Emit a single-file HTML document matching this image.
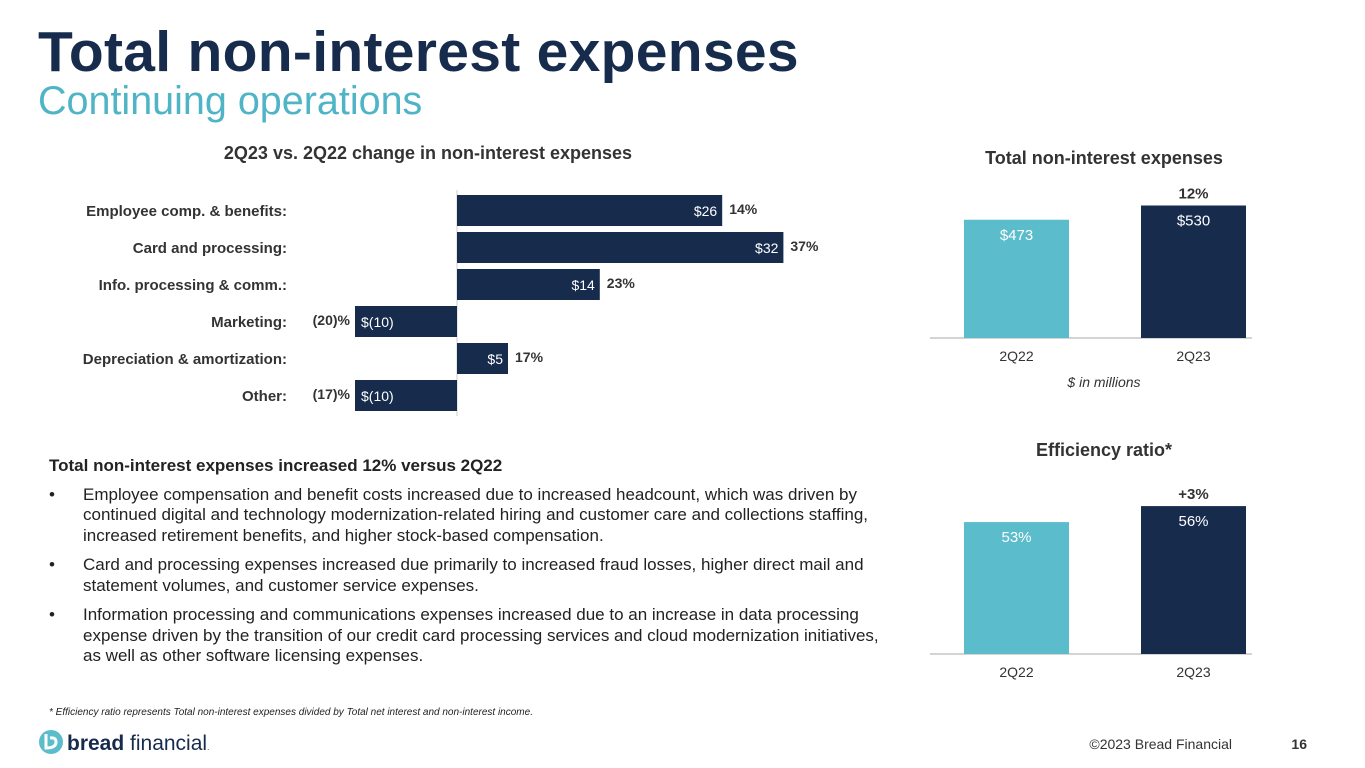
<!DOCTYPE html>
<html><head><meta charset="utf-8"><style>
body{margin:0;width:1365px;height:768px;overflow:hidden;background:#fff;font-family:"Liberation Sans",Arial,sans-serif;position:relative}
.abs{position:absolute}
#title{left:38px;top:19px;font-size:57px;font-weight:bold;color:#172b4d;white-space:nowrap;letter-spacing:0.3px}
#sub{left:38px;top:79px;font-size:39.5px;color:#4fb5c6;white-space:nowrap}
#txt{left:49px;top:456px;width:852px;font-size:17px;color:#222;line-height:20.5px}
#txt ul{margin:8px 0 0 0;padding:0;list-style:none}
#txt li{position:relative;padding-left:34px;margin-bottom:9px}
#txt li:before{content:"•";position:absolute;left:0}
#foot{left:49px;top:707px;font-size:10px;font-style:italic;color:#222}
</style></head><body>
<div id="title" class="abs">Total non-interest expenses</div>
<div id="sub" class="abs">Continuing operations</div>
<div id="txt" class="abs"><b>Total non-interest expenses increased 12% versus 2Q22</b>
<ul>
<li>Employee compensation and benefit costs increased due to increased headcount, which was driven by continued digital and technology modernization-related hiring and customer care and collections staffing, increased retirement benefits, and higher stock-based compensation.</li>
<li>Card and processing expenses increased due primarily to increased fraud losses, higher direct mail and statement volumes, and customer service expenses.</li>
<li>Information processing and communications expenses increased due to an increase in data processing expense driven by the transition of our credit card processing services and cloud modernization initiatives, as well as other software licensing expenses.</li>
</ul></div>
<div id="foot" class="abs">* Efficiency ratio represents Total non-interest expenses divided by Total net interest and non-interest income.</div>
<svg class="abs" style="left:0;top:0" width="1365" height="768" id="svg">
<text x="428" y="159" text-anchor="middle" font-size="18" font-weight="bold" fill="#333">2Q23 vs. 2Q22 change in non-interest expenses</text>
<text x="1104" y="164" text-anchor="middle" font-size="18" font-weight="bold" fill="#333">Total non-interest expenses</text>
<text x="1104" y="456" text-anchor="middle" font-size="18" font-weight="bold" fill="#333">Efficiency ratio*</text>
<text x="1104" y="387" text-anchor="middle" font-size="14" font-style="italic" fill="#333">$ in millions</text>
<g id="hbar"></g><g id="c1"></g><g id="c2"></g>
<g>
<circle cx="51" cy="742" r="12" fill="#5bbccb"/>
<path d="M46 734 L46 748 Q56 748 56 742 Q56 737 50 738" stroke="#fff" stroke-width="3" fill="none"/>
<text x="67" y="750" font-size="21" fill="#172b4d"><tspan font-weight="bold">bread</tspan> financial<tspan font-size="8">.</tspan></text>
</g>
<text x="1232" y="749" text-anchor="end" font-size="14" fill="#333">©2023 Bread Financial</text>
<text x="1307" y="749" text-anchor="end" font-size="14" font-weight="bold" fill="#333">16</text>
</svg>
<script>
const cats=["Employee comp. & benefits:","Card and processing:","Info. processing & comm.:","Marketing:","Depreciation & amortization:","Other:"];
const changes=[26,32,14,-10,5,-10];
const pcts=["14%","37%","23%","(20)%","17%","(17)%"];
const qLabels=["2Q22","2Q23"];
const expenses=[473,530];
const expChange="12%";
const effRatio=[53,56];
const effChange="+3%";
const NS="http://www.w3.org/2000/svg";
function mk(p,t,a){const e=document.createElementNS(NS,t);for(const k in a)e.setAttribute(k,a[k]);p.appendChild(e);return e;}
const navy="#172b4d",teal="#5bbccb";
const fmt=v=>v<0?"$("+(-v)+")":"$"+v;
const hb=document.getElementById('hbar');
const x0=457,xs=v=>x0+v*10.2,rowY=i=>195+i*37,bh=31;
mk(hb,'line',{x1:x0,x2:x0,y1:190,y2:416,stroke:"#ccc"});
cats.forEach((c,i)=>{
 const y=rowY(i),v=changes[i],xa=Math.min(xs(0),xs(v)),w=Math.abs(xs(v)-xs(0));
 const t=mk(hb,'text',{x:287,y:y+21,'text-anchor':'end','font-size':15,'font-weight':'bold',fill:'#333'});t.textContent=c;
 
 
 const r=mk(hb,'rect',{x:xa,y:y,width:w,height:bh,fill:navy});
 
 
 const vl=mk(hb,'text',{x:v>=0?xs(v)-5:xs(v)+6,y:y+21,'text-anchor':v>=0?'end':'start','font-size':14,fill:'#fff'});vl.textContent=fmt(v);
 
 
 const pl=mk(hb,'text',{x:v>=0?xs(v)+7:xs(v)-5,y:y+19,'text-anchor':v>=0?'start':'end','font-size':14,'font-weight':'bold',fill:'#333'});pl.textContent=pcts[i];
 
 
});
function col(id,vals,base,yv,labs,chg,lblFmt){
 const g=document.getElementById(id);
 mk(g,'line',{x1:930,x2:1252,y1:base,y2:base,stroke:'#aaa'});
 vals.forEach((v,i)=>{
  const x=964+i*177,top=yv(v);
  const r=mk(g,'rect',{x:x,y:top,width:105,height:base-top,fill:i?navy:teal});
  
  
  const t=mk(g,'text',{x:x+52.5,y:top+20,'text-anchor':'middle','font-size':15,fill:'#fff'});t.textContent=lblFmt(v);
  
  
  const l=mk(g,'text',{x:x+52.5,y:base+23,'text-anchor':'middle','font-size':14,fill:'#333'});l.textContent=labs[i];
  
  
 });
 const c=mk(g,'text',{x:964+177+52.5,y:yv(vals[1])-7,'text-anchor':'middle','font-size':15,'font-weight':'bold',fill:'#333'});c.textContent=chg;
 
 
}
col('c1',expenses,338,v=>338-v*0.25,qLabels,expChange,v=>"$"+v);
col('c2',effRatio,654,v=>654-(v-28.25)*5.33,qLabels,effChange,v=>v+"%");
</script>
</body></html>
